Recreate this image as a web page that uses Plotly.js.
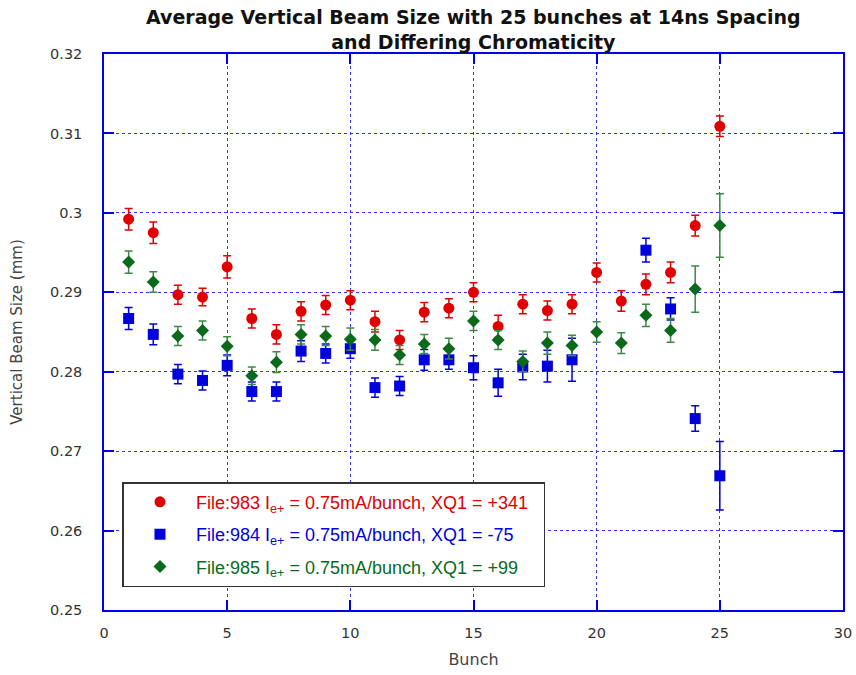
<!DOCTYPE html>
<html><head><meta charset="utf-8">
<script src="https://cdn.plot.ly/plotly-3.0.1.min.js"></script>
<style>body{margin:0;background:#fff}#chart{width:856px;height:675px}</style>
</head><body><div id="chart"></div>
<script>
const bunchA = [1,2,3,4,5,6,7,8,9,10,11,12,13,14,15,16,17,18,19,20,21,22,23,24,25];
const bunchB = [1,2,3,4,5,6,7,8,9,10,11,12,13,14,15,16,17,18,19,22,23,24,25];

const red983 = [0.2992,0.2975,0.2897,0.2894,0.2932,0.2867,0.2847,0.2876,0.2884,0.2890,0.2863,0.2840,0.2875,0.2880,0.2900,0.2857,0.2885,0.2877,0.2885,0.2925,0.2889,0.2910,0.2925,0.2984,0.3109];
const red983Err = [0.00135,0.00136,0.0012,0.0011,0.0014,0.0012,0.0012,0.0012,0.0012,0.0012,0.0013,0.0012,0.0012,0.0012,0.0012,0.0014,0.0012,0.0012,0.0012,0.0012,0.0013,0.0013,0.0013,0.0013,0.0013];

const blue984 = [0.2867,0.2847,0.2797,0.2789,0.2808,0.2775,0.2775,0.2826,0.2823,0.2829,0.2780,0.2782,0.2815,0.2815,0.2805,0.2786,0.2806,0.2807,0.2815,0.2953,0.2879,0.2741,0.2669];
const blue984Err = [0.0014,0.0013,0.0012,0.0012,0.0013,0.0012,0.0012,0.0013,0.0012,0.0012,0.0012,0.0012,0.0013,0.0012,0.0015,0.0017,0.0016,0.0020,0.0027,0.0015,0.0014,0.0016,0.0043];

const green985 = [0.2938,0.2913,0.2845,0.2852,0.2832,0.2795,0.2812,0.2847,0.2845,0.2841,0.2840,0.2821,0.2835,0.2829,0.2864,0.2840,0.2813,0.2836,0.2833,0.2850,0.2836,0.2871,0.2852,0.2904,0.2984];
const green985Err = [0.0014,0.0013,0.0012,0.0012,0.0012,0.0011,0.0013,0.0012,0.0012,0.0014,0.0013,0.0012,0.0012,0.0013,0.0012,0.0012,0.0013,0.0014,0.0013,0.0013,0.0013,0.0014,0.0015,0.0029,0.0040];

const xTicks = [0,5,10,15,20,25,30];
const yTicks = [0.25,0.26,0.27,0.28,0.29,0.3,0.31,0.32];

const titleText = '<b>Average Vertical Beam Size with 25 bunches at 14ns Spacing<br>and Differing Chromaticity</b>';
const names = [
  '<span style="color:#e00000">File:983 I<sub>e+</sub> = 0.75mA/bunch, XQ1 = +341\u00a0\u00a0</span>',
  '<span style="color:#0000dd">File:984 I<sub>e+</sub> = 0.75mA/bunch, XQ1 = -75</span>',
  '<span style="color:#0a6a1a">File:985 I<sub>e+</sub> = 0.75mA/bunch, XQ1 = +99</span>'
];

const traces = [
  {x: bunchA, y: red983, error_y:{type:'data', array:red983Err, color:'#e00000', thickness:1.5, width:4},
   mode:'markers', type:'scatter', name:names[0], legendgroup:'a', marker:{symbol:'circle', size:11, color:'#e00000'}},
  {x: bunchB, y: blue984, error_y:{type:'data', array:blue984Err, color:'#0000dd', thickness:1.5, width:4},
   mode:'markers', type:'scatter', name:names[1], legendgroup:'b', marker:{symbol:'square', size:11, color:'#0000dd'}},
  {x: bunchA, y: green985, error_y:{type:'data', array:green985Err, color:'#3a8a45', thickness:1.5, width:4},
   mode:'markers', type:'scatter', name:names[2], legendgroup:'c', marker:{symbol:'diamond', size:10, color:'#0a6a1a'}}
];

const axisCommon = {
  showline:true, linecolor:'#0000ee', linewidth:1.5, mirror:'ticks',
  ticks:'inside', ticklen:10, tickcolor:'#0000ee', tickwidth:1.5,
  showgrid:true, gridcolor:'#3333ff', griddash:'dot', gridwidth:1,
  zeroline:false, tickfont:{family:'DejaVu Sans, sans-serif', size:14.5, color:'#333'}
};

const layout = {
  width:856, height:675,
  margin:{l:104, r:13, t:54, b:65},
  paper_bgcolor:'#fff', plot_bgcolor:'#fff',
  xaxis:Object.assign({}, axisCommon, {range:[0,30], tickvals:xTicks, ticklabelstandoff:9,
    title:{text:'Bunch', font:{family:'DejaVu Sans, sans-serif', size:16, color:'#444'}, standoff:14}}),
  yaxis:Object.assign({}, axisCommon, {range:[0.25,0.32], tickvals:yTicks, ticklabelstandoff:17,
    title:{text:'Vertical Beam Size (mm)', font:{family:'DejaVu Sans, sans-serif', size:15, color:'#444'}, standoff:24}}),
  annotations:[{text:titleText, xref:'paper', yref:'paper', x:0.5, y:1.0432, xanchor:'center', yanchor:'middle',
    showarrow:false, font:{family:'DejaVu Sans, sans-serif', size:19, color:'#111'}}],
  showlegend:true,
  legend:{x:0.025, y:0.230, xanchor:'left', yanchor:'top', bgcolor:'#fff', bordercolor:'#333', borderwidth:1.5,
    itemwidth:62, tracegroupgap:6,
    font:{family:'Liberation Sans, Arial, sans-serif', size:18}}
};

Plotly.newPlot('chart', traces, layout, {displayModeBar:false});
</script></body></html>
